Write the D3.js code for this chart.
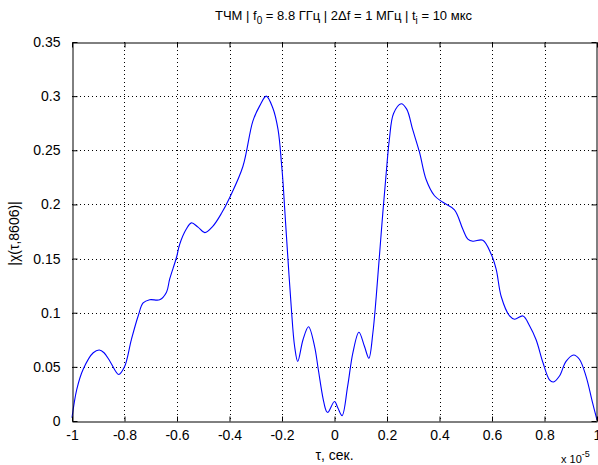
<!DOCTYPE html>
<html>
<head>
<meta charset="utf-8">
<script src="https://cdn.jsdelivr.net/npm/d3@7"></script>
<style>
  body { margin: 0; background: #fff; }
  text { font-family: Arial, "Liberation Sans", sans-serif; fill: #000; }
</style>
</head>
<body>
<svg id="canvas"></svg>
<script>
// tau in units of 1e-5 s
let tauValues = [
  -1, -0.982, -0.957, -0.919, -0.896, -0.878, -0.855, -0.822, -0.80, -0.774,
  -0.748, -0.729, -0.704, -0.666, -0.64, -0.628, -0.602, -0.59, -0.565, -0.545,
  -0.52, -0.494, -0.463, -0.43, -0.40, -0.349, -0.311, -0.285, -0.26, -0.235,
  -0.215, -0.202, -0.196, -0.19, -0.178, -0.165, -0.152, -0.14, -0.12, -0.099,
  -0.076, -0.062, -0.043, -0.031, -0.025, 0, 0.013, 0.029, 0.05, 0.07,
  0.093, 0.114, 0.131, 0.146, 0.159, 0.171, 0.184, 0.197, 0.209, 0.225,
  0.254, 0.275, 0.298, 0.324, 0.349, 0.381, 0.413, 0.457, 0.489, 0.508,
  0.527, 0.565, 0.597, 0.616, 0.635, 0.667, 0.686, 0.718, 0.743, 0.768,
  0.794, 0.819, 0.834, 0.857, 0.882, 0.911, 0.933, 0.958, 0.983, 1
];
let chiValues = [
  0.003, 0.029, 0.048, 0.063, 0.0655, 0.063, 0.055, 0.043, 0.05, 0.075,
  0.097, 0.109, 0.112, 0.112, 0.119, 0.131, 0.151, 0.163, 0.177, 0.183,
  0.179, 0.174, 0.180, 0.192, 0.206, 0.235, 0.277, 0.291, 0.300, 0.289,
  0.269, 0.238, 0.220, 0.197, 0.152, 0.106, 0.069, 0.055, 0.075, 0.087,
  0.069, 0.048, 0.020, 0.009, 0.008, 0.018, 0.012, 0.005, 0.032, 0.063,
  0.082, 0.069, 0.058, 0.081, 0.115, 0.152, 0.192, 0.229, 0.26, 0.284,
  0.293, 0.288, 0.269, 0.248, 0.223, 0.208, 0.202, 0.195, 0.177, 0.168,
  0.166, 0.167, 0.154, 0.140, 0.115, 0.097, 0.094, 0.097, 0.088, 0.075,
  0.054, 0.038, 0.036, 0.0415, 0.055, 0.061, 0.057, 0.0415, 0.017, 0.001
];
let xTicks = [-1, -0.8, -0.6, -0.4, -0.2, 0, 0.2, 0.4, 0.6, 0.8, 1];
let yTicks = [0, 0.05, 0.1, 0.15, 0.2, 0.25, 0.3, 0.35];

let width = 598;
let height = 465;
let padLeft = 72, padRight = 597, padTop = 42, padBottom = 421;

let canvas = d3.select("#canvas").attr("width", width).attr("height", height);

let xScale = d3.scaleLinear().domain([-1, 1]).range([padLeft, padRight]);
let yScale = d3.scaleLinear().domain([0, 0.35]).range([padBottom, padTop]);

let fmt = (d) => String(d);

// grid
let grid = canvas.append("g");
grid.selectAll(".gx")
  .data(xTicks.slice(1, -1))
  .enter()
  .append("line")
  .attr("x1", (d) => Math.round(xScale(d)) + 0.5)
  .attr("x2", (d) => Math.round(xScale(d)) + 0.5)
  .attr("y1", padTop)
  .attr("y2", padBottom)
  .attr("stroke", "#000")
  .attr("stroke-dasharray", "1,3");
grid.selectAll(".gy")
  .data(yTicks.slice(1, -1))
  .enter()
  .append("line")
  .attr("y1", (d) => Math.round(yScale(d)) + 0.5)
  .attr("y2", (d) => Math.round(yScale(d)) + 0.5)
  .attr("x1", padLeft)
  .attr("x2", padRight)
  .attr("stroke", "#000")
  .attr("stroke-dasharray", "1,3");

// curve
let line = d3.line()
  .x((d, i) => xScale(tauValues[i]))
  .y((d) => yScale(d))
  .curve(d3.curveCatmullRom.alpha(0.5));

canvas.append("path")
  .datum(chiValues)
  .attr("d", line)
  .attr("fill", "none")
  .attr("stroke", "#0000ff")
  .attr("stroke-width", 1.1);

// axes (MATLAB box with inward ticks)
let xAxis = d3.axisBottom(xScale).tickValues(xTicks).tickSizeInner(-5).tickSizeOuter(0).tickPadding(9).tickFormat(fmt);
let yAxis = d3.axisLeft(yScale).tickValues(yTicks).tickSizeInner(-5).tickSizeOuter(0).tickPadding(12).tickFormat(fmt);
let xAxisTop = d3.axisTop(xScale).tickValues(xTicks).tickSizeInner(-5).tickSizeOuter(0).tickFormat("");
let yAxisRight = d3.axisRight(yScale).tickValues(yTicks).tickSizeInner(-5).tickSizeOuter(0).tickFormat("");

[
  [xAxis, "translate(0," + (padBottom + 0.5) + ")"],
  [yAxis, "translate(" + (padLeft + 0.5) + ",0)"],
  [xAxisTop, "translate(0," + (padTop + 0.5) + ")"],
  [yAxisRight, "translate(" + (padRight - 0.5) + ",0)"]
].forEach(([ax, tr]) => {
  let g = canvas.append("g").attr("transform", tr).call(ax);
  g.select(".domain").attr("stroke", "#000");
  g.selectAll(".tick line").attr("stroke", "#000");
  g.selectAll("text").attr("font-size", 14).attr("font-family", "Arial, 'Liberation Sans', sans-serif");
});

// title
let title = canvas.append("text")
  .attr("x", (padLeft + padRight) / 2 + 9)
  .attr("y", 20)
  .attr("text-anchor", "middle")
  .attr("font-size", 13);
title.append("tspan").text("ТЧМ | f");
title.append("tspan").attr("dy", 4).attr("font-size", 10).text("0");
title.append("tspan").attr("dy", -4).text(" = 8.8 ГГц | 2Δf = 1 МГц | t");
title.append("tspan").attr("dy", 4).attr("font-size", 10).text("i");
title.append("tspan").attr("dy", -4).text(" = 10 мкс");

// axis labels
canvas.append("text")
  .attr("x", (padLeft + padRight) / 2)
  .attr("y", 460)
  .attr("text-anchor", "middle")
  .attr("font-size", 14)
  .text("τ, сек.");

canvas.append("text")
  .attr("transform", "translate(19," + ((padTop + padBottom) / 2 + 2) + ") rotate(-90)")
  .attr("text-anchor", "middle")
  .attr("font-size", 14)
  .text("|χ(τ,8606)|");

let mult = canvas.append("text")
  .attr("x", 561)
  .attr("y", 463)
  .attr("font-size", 11);
mult.append("tspan").text("x 10");
mult.append("tspan").attr("dy", -6).attr("font-size", 9).text("-5");
</script>
</body>
</html>
